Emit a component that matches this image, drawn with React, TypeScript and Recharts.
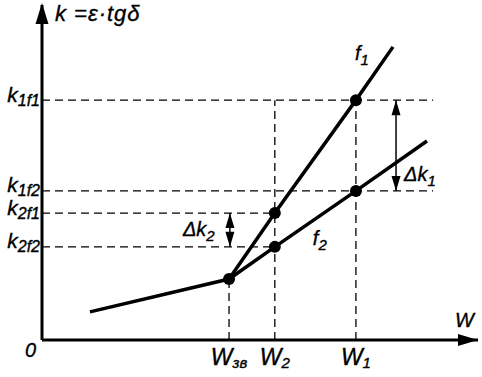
import React from 'react';
import { LineChart, Line, XAxis, YAxis, ReferenceLine, ReferenceDot } from 'recharts';

// W axis positions (arbitrary units)
const W_ZV = 4.29;
const W_2 = 5.34;
const W_1 = 7.2;
// k values
const K_ZV = 1.82;
const K_2F2 = 2.78;
const K_2F1 = 3.79;
const K_1F2 = 4.45;
const K_1F1 = 7.16;

const xTickValues = [W_ZV, W_2, W_1];
const xTickSubs = ['зв', '2', '1'];
const yTickValues = [K_2F2, K_2F1, K_1F2, K_1F1];
const yTickSubs = ['2f2', '2f1', '1f2', '1f1'];

const f1Data = [
  { w: W_ZV, k: K_ZV, mark: false },
  { w: W_2, k: K_2F1, mark: true },
  { w: W_1, k: K_1F1, mark: true },
  { w: 8.05, k: 8.75, mark: false },
];
const f2Data = [
  { w: 1.1, k: 0.84, mark: false },
  { w: W_ZV, k: K_ZV, mark: true },
  { w: W_2, k: K_2F2, mark: true },
  { w: W_1, k: K_1F2, mark: true },
  { w: 8.83, k: 5.94, mark: false },
];

const DASH_END = 8.97;
const DK1_X = 8.12;
const DK2_X = 4.31;

const FONT = '"Liberation Sans", Arial, sans-serif';
const txt = {
  fontFamily: FONT,
  fontStyle: 'italic' as const,
  fill: '#000',
  stroke: '#000',
  strokeWidth: 0.35,
};

const Dot = (props: any) => {
  const { cx, cy, payload, index } = props;
  if (!payload || !payload.mark) return <g key={`d${index}`} />;
  return <circle key={`d${index}`} cx={cx} cy={cy} r={6} fill="#000" />;
};

const YTick = (props: any) => {
  const { x, y, payload } = props;
  const i = yTickValues.indexOf(payload.value);
  return (
    <text x={x + 1} y={y + 1.5} textAnchor="end" {...txt} fontSize={21}>
      <tspan>k</tspan>
      <tspan dy={4} fontSize={16}>{yTickSubs[i]}</tspan>
    </text>
  );
};

const XTick = (props: any) => {
  const { x, y, payload } = props;
  const i = xTickValues.indexOf(payload.value);
  return (
    <text x={x} y={y + 25} textAnchor="middle" {...txt} fontSize={23}>
      <tspan>W</tspan>
      <tspan dy={3} fontSize={15}>{xTickSubs[i]}</tspan>
    </text>
  );
};

const dashProps = { stroke: '#000', strokeWidth: 1.3, strokeDasharray: '8 5', ifOverflow: 'visible' as const };

const upHead = (p: any) => (
  <polygon points={`${p.cx},${p.cy} ${p.cx - 4.5},${p.cy + 15} ${p.cx + 4.5},${p.cy + 15}`} fill="#000" />
);
const downHead = (p: any) => (
  <polygon points={`${p.cx},${p.cy} ${p.cx - 4.5},${p.cy - 15} ${p.cx + 4.5},${p.cy - 15}`} fill="#000" />
);

export default function App() {
  return (
    <div style={{ position: 'absolute', left: 0, top: 0, background: '#fff' }}>
      <LineChart width={482} height={377} margin={{ top: 5, right: 4, left: 0, bottom: 0 }}>
        <XAxis
          dataKey="w"
          type="number"
          domain={[0, 10]}
          allowDataOverflow
          ticks={xTickValues}
          interval={0}
          tick={<XTick />}
          tickLine={false}
          tickSize={0}
          tickMargin={0}
          height={37}
          axisLine={{ stroke: '#000', strokeWidth: 3 }}
        />
        <YAxis
          dataKey="k"
          type="number"
          domain={[0, 10]}
          allowDataOverflow
          ticks={yTickValues}
          interval={0}
          tick={<YTick />}
          tickLine={false}
          tickSize={0}
          tickMargin={3}
          width={42}
          axisLine={{ stroke: '#000', strokeWidth: 3 }}
        />

        <ReferenceLine segment={[{ x: 0, y: K_1F1 }, { x: DASH_END, y: K_1F1 }]} {...dashProps} />
        <ReferenceLine segment={[{ x: 0, y: K_1F2 }, { x: DASH_END, y: K_1F2 }]} {...dashProps} />
        <ReferenceLine segment={[{ x: 0, y: K_2F1 }, { x: W_2, y: K_2F1 }]} {...dashProps} />
        <ReferenceLine segment={[{ x: 0, y: K_2F2 }, { x: W_2, y: K_2F2 }]} {...dashProps} />
        <ReferenceLine segment={[{ x: W_ZV, y: 0 }, { x: W_ZV, y: K_ZV }]} {...dashProps} />
        <ReferenceLine segment={[{ x: W_2, y: 0 }, { x: W_2, y: K_1F1 }]} {...dashProps} />
        <ReferenceLine segment={[{ x: W_1, y: 0 }, { x: W_1, y: K_1F1 }]} {...dashProps} />

        <ReferenceLine segment={[{ x: DK1_X, y: K_1F2 }, { x: DK1_X, y: K_1F1 }]} stroke="#000" strokeWidth={1.5} ifOverflow="visible" />
        <ReferenceLine segment={[{ x: DK2_X, y: K_2F2 }, { x: DK2_X, y: K_2F1 }]} stroke="#000" strokeWidth={1.5} ifOverflow="visible" />
        <ReferenceDot x={DK1_X} y={K_1F1} ifOverflow="visible" shape={upHead} />
        <ReferenceDot x={DK1_X} y={K_1F2} ifOverflow="visible" shape={downHead} />
        <ReferenceDot x={DK2_X} y={K_2F1} ifOverflow="visible" shape={upHead} />
        <ReferenceDot x={DK2_X} y={K_2F2} ifOverflow="visible" shape={downHead} />

        <Line data={f2Data} dataKey="k" stroke="#000" strokeWidth={3.5} dot={Dot} activeDot={false} isAnimationActive={false} />
        <Line data={f1Data} dataKey="k" stroke="#000" strokeWidth={3.5} dot={Dot} activeDot={false} isAnimationActive={false} />

        {/* axis arrowheads and axis labels */}
        <ReferenceDot
          x={10}
          y={0}
          ifOverflow="visible"
          shape={(p: any) => (
            <g>
              <polygon points={`${p.cx},${p.cy} ${p.cx - 20},${p.cy - 6} ${p.cx - 20},${p.cy + 6}`} fill="#000" />
              <text x={p.cx - 4} y={p.cy - 13} textAnchor="end" {...txt} fontSize={20}>W</text>
            </g>
          )}
        />
        <ReferenceDot
          x={0}
          y={10}
          ifOverflow="visible"
          shape={(p: any) => (
            <g>
              <polygon points={`${p.cx},${p.cy - 2} ${p.cx - 6.5},${p.cy + 19} ${p.cx + 6.5},${p.cy + 19}`} fill="#000" />
              <text x={p.cx + 13} y={p.cy + 16} {...txt} fontSize={22} letterSpacing={1}>k =ε·tgδ</text>
            </g>
          )}
        />
        <ReferenceDot
          x={0}
          y={0}
          ifOverflow="visible"
          shape={(p: any) => (
            <text x={p.cx - 17} y={p.cy + 17} {...txt} fontSize={20}>0</text>
          )}
        />
        <ReferenceDot
          x={f1Data[3].w}
          y={f1Data[3].k}
          ifOverflow="visible"
          shape={(p: any) => (
            <text x={p.cx - 38} y={p.cy + 13} {...txt} fontSize={20}>
              <tspan>f</tspan>
              <tspan dy={5} fontSize={15}>1</tspan>
            </text>
          )}
        />
        <ReferenceDot
          x={W_2}
          y={K_2F2}
          ifOverflow="visible"
          shape={(p: any) => (
            <text x={p.cx + 38} y={p.cy - 2} {...txt} fontSize={20}>
              <tspan>f</tspan>
              <tspan dy={5} fontSize={15}>2</tspan>
            </text>
          )}
        />
        <ReferenceDot
          x={DK1_X}
          y={K_1F2}
          ifOverflow="visible"
          shape={(p: any) => (
            <text x={p.cx + 8} y={p.cy - 10} {...txt} fontSize={20}>
              <tspan>Δk</tspan>
              <tspan dy={5} fontSize={15}>1</tspan>
            </text>
          )}
        />
        <ReferenceDot
          x={DK2_X}
          y={K_2F2}
          ifOverflow="visible"
          shape={(p: any) => (
            <text x={p.cx - 47} y={p.cy - 11} {...txt} fontSize={20}>
              <tspan>Δk</tspan>
              <tspan dy={5} fontSize={15}>2</tspan>
            </text>
          )}
        />
      </LineChart>
    </div>
  );
}
